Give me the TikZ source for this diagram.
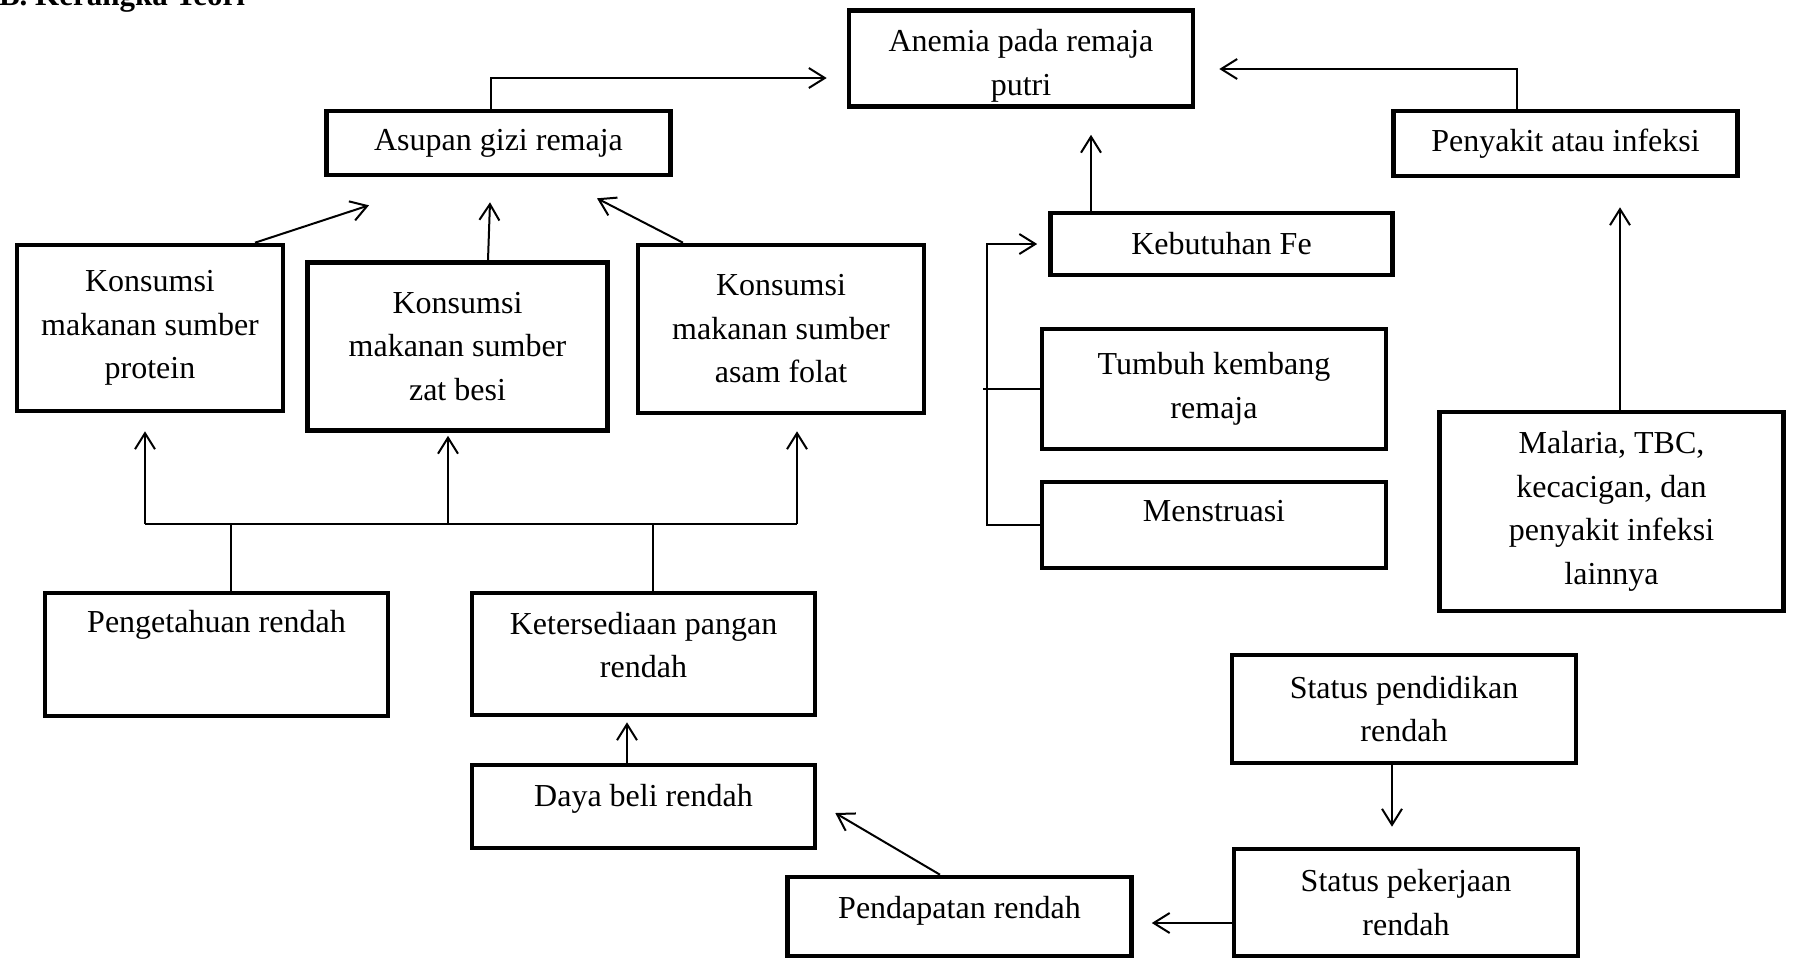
\documentclass[tikz,border=0pt]{standalone}
\usepackage{fontspec}
\setmainfont{Liberation Serif}
\usetikzlibrary{arrows.meta}

\begin{document}
\begin{tikzpicture}[x=0.5pt, y=-0.5pt,
        font=\fontsize{16}{21.75}\selectfont,
        box/.style={draw, line width=2.3pt, align=center},
        arr/.style={line width=1pt, -{Straight Barb[length=8pt,width=10pt]}},
        link/.style={line width=0.9pt}]
            \useasboundingbox (0,0) rectangle (1793,960);
            \node[anchor=base west, font=\fontsize{15.5}{18}\selectfont\bfseries] (judul) at (-8,5) {B. Kerangka Teori};

            \node[box, minimum width=172pt, minimum height=48pt, inner ysep=0pt, text height=40pt] (anemia) at (1021,58.5) {Anemia pada remaja\\putri};
            \node[box, minimum width=172pt, minimum height=32pt] (asupan) at (498.5,143) {Asupan gizi remaja};
            \node[box, minimum width=172pt, minimum height=32.5pt] (penyakit) at (1565.5,143.5) {Penyakit atau infeksi};
            \node[box, minimum width=171pt, minimum height=31pt] (kebfe) at (1221.5,244) {Kebutuhan Fe};
            \node[box, minimum width=172pt, minimum height=60pt] (tumbuh) at (1214,389) {Tumbuh kembang\\remaja};
            \node[box, minimum width=172pt, minimum height=43pt, text depth=14.5pt] (mens) at (1214,525) {Menstruasi};
            \node[box, minimum width=172pt, minimum height=99.5pt] (malaria) at (1611.5,511.5) {Malaria, TBC,\\kecacigan, dan\\penyakit infeksi\\lainnya};
            \node[box, minimum width=133pt, minimum height=83pt] (kprot) at (150,328) {Konsumsi\\makanan sumber\\protein};
            \node[box, minimum width=150pt, minimum height=84pt] (kfe) at (457.5,346.5) {Konsumsi\\makanan sumber\\zat besi};
            \node[box, minimum width=143pt, minimum height=84pt] (kfol) at (781,329) {Konsumsi\\makanan sumber\\asam folat};
            \node[box, minimum width=171.5pt, minimum height=61.5pt, text depth=33pt] (tahu) at (216.5,654.5) {Pengetahuan rendah};
            \node[box, minimum width=171.5pt, minimum height=61pt, text depth=9pt] (sedia) at (643.5,654) {Ketersediaan pangan\\rendah};
            \node[box, minimum width=171.5pt, minimum height=41.5pt, text depth=11.5pt] (daya) at (643.5,806.5) {Daya beli rendah};
            \node[box, minimum width=172pt, minimum height=39.5pt, text depth=9.5pt] (dapat) at (959.5,916.5) {Pendapatan rendah};
            \node[box, minimum width=172pt, minimum height=54pt] (didik) at (1404,709) {Status pendidikan\\rendah};
            \node[box, minimum width=172pt, minimum height=53.5pt] (kerja) at (1406,902.5) {Status pekerjaan\\rendah};

            \coordinate (busL) at (145,524);
            \coordinate (busR) at (797,524);

            \draw[arr, shorten >=10pt] ([xshift=-3.75pt]asupan.north) |- ([yshift=-9.75pt]anemia.west);
            \draw[arr, shorten >=12pt] ([xshift=-24.25pt]penyakit.north) |- ([yshift=-5.25pt]anemia.east);
            \draw[arr, shorten >=13pt] ([xshift=-65.25pt]kebfe.north) -- ([xshift=-65.25pt]kebfe.north |- anemia.south);
            \draw[arr, shorten >=5.5pt] (mens.west) -| ([xshift=-30.5pt]kebfe.west) -- (kebfe.west);
            \draw[link] (tumbuh.west) -- ++(-57,0);
            \draw[arr, shorten >=14.5pt] ([xshift=4.25pt]malaria.north) -- ([xshift=4.25pt]malaria.north |- penyakit.south);

            \draw[arr] ([xshift=52.5pt]kprot.north) -- ([xshift=-64.75pt,yshift=-14pt]asupan.south);
            \draw[arr] ([xshift=15.25pt]kfe.north) -- ([xshift=-4.25pt,yshift=-12.5pt]asupan.south);
            \draw[arr] ([xshift=-49pt]kfol.north) -- ([xshift=49.25pt,yshift=-10.5pt]asupan.south);

            \draw[link] (busL) -- (busR);
            \draw[link] ([xshift=7.25pt]tahu.north) -- ([xshift=7.25pt]tahu.north |- busL);
            \draw[link] ([xshift=4.75pt]sedia.north) -- ([xshift=4.75pt]sedia.north |- busR);
            \draw[arr, shorten >=9pt] (busL) -- (busL |- kprot.south);
            \draw[arr, shorten >=1.5pt] ([xshift=-4.75pt]kfe.south |- busL) -- ([xshift=-4.75pt]kfe.south);
            \draw[arr, shorten >=8pt] (busR) -- (busR |- kfol.south);

            \draw[arr, shorten >=2.5pt] ([xshift=-8.25pt]daya.north) -- ([xshift=-8.25pt]daya.north |- sedia.south);
            \draw[arr] ([xshift=-9.75pt]dapat.north) -- ([xshift=9pt,yshift=-3.25pt]daya.east);
            \draw[arr, shorten >=10pt] ([xshift=-6pt]didik.south) -- ([xshift=-6pt]didik.south |- kerja.north);
            \draw[arr, shorten >=9pt] ([yshift=-10.25pt]kerja.west) -- ([yshift=-10.25pt]kerja.west -| dapat.east);
\end{tikzpicture}
\end{document}
